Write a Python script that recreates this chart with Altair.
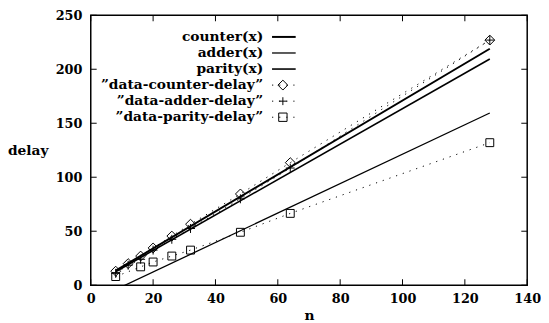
import altair as alt
import pandas as pd

# ---------------- data ----------------
n_counter = [8, 12, 16, 20, 26, 32, 48, 64, 128]
counter_delay = [13, 20, 27, 34.5, 45.5, 56.5, 84.5, 113.5, 227]

n_adder = [8, 12, 16, 20, 26, 32, 48, 64, 128]
adder_delay = [11, 18.5, 24, 32.5, 42.5, 52.5, 80, 108.5, 227]

n_parity = [8, 16, 20, 26, 32, 48, 64, 128]
parity_delay = [8, 17, 21.5, 27, 32.5, 49, 66.5, 132]

fit_names = ["counter(x)", "adder(x)", "parity(x)"]
fit_n = [8, 128]
counter_fit = [13.5, 219]
adder_fit = [12.5, 209.5]
parity_fit = [-4.1, 159.5]

data_names = ["\u201ddata-counter-delay\u201d", "\u201ddata-adder-delay\u201d", "\u201ddata-parity-delay\u201d"]

x_ticks = [0, 20, 40, 60, 80, 100, 120, 140]
y_ticks = [0, 50, 100, 150, 200, 250]

# ---------------- tables ----------------
fit_df = pd.DataFrame({
    "n": fit_n * 3,
    "delay": counter_fit + adder_fit + parity_fit,
    "series": [s for s in fit_names for _ in fit_n],
})

pts_df = pd.DataFrame({
    "n": n_counter + n_adder + n_parity,
    "delay": counter_delay + adder_delay + parity_delay,
    "series": [data_names[0]] * len(n_counter) + [data_names[1]] * len(n_adder) + [data_names[2]] * len(n_parity),
})

xt_df = pd.DataFrame({"n": x_ticks})
yt_df = pd.DataFrame({"delay": y_ticks})

FONT = "DejaVu Serif"
W, H = 443, 274
TICK = 6
PLUS = "M-1,0H1M0,-1V1"
shapes = ["diamond", PLUS, "square"]
sizes = [100, 64, 72]
fit_widths = [2.0, 1.3, 1.6]

xs = alt.Scale(domain=[0, 140], nice=False, zero=False)
ys = alt.Scale(domain=[0, 250], nice=False, zero=False)

lab = dict(labelFont=FONT, labelFontWeight="bold", labelFontSize=13, labelColor="black",
           labelFlush=False, labelOverlap=False, ticks=False, domain=False, grid=False)
ttl = dict(titleFont=FONT, titleFontWeight="bold", titleFontSize=14, titleColor="black")

fits = alt.Chart(fit_df).mark_line(color="black", clip=True).encode(
    x=alt.X("n:Q", scale=xs, axis=alt.Axis(
        values=x_ticks, orient="bottom", labelPadding=8,
        title="n", titleY=35, titleBaseline="alphabetic", **lab, **ttl)),
    y=alt.Y("delay:Q", scale=ys, axis=alt.Axis(
        values=y_ticks, orient="left", labelPadding=9,
        title="delay", titleAngle=0, titleAlign="center", titleBaseline="middle",
        titleX=-64, titleY=137, **lab, **ttl)),
    detail="series:N",
    strokeWidth=alt.StrokeWidth("series:N", scale=alt.Scale(domain=fit_names, range=fit_widths), legend=None),
)

dotted = alt.Chart(pts_df).mark_line(color="black", strokeWidth=1, strokeDash=[1.2, 6], clip=True).encode(
    x=alt.X("n:Q", scale=xs, axis=None),
    y=alt.Y("delay:Q", scale=ys, axis=None),
    detail="series:N",
)

points = alt.Chart(pts_df).mark_point(color="black", filled=False, strokeWidth=1, opacity=1).encode(
    x=alt.X("n:Q", scale=xs, axis=None),
    y=alt.Y("delay:Q", scale=ys, axis=None),
    shape=alt.Shape("series:N", scale=alt.Scale(domain=data_names, range=shapes), legend=None),
    size=alt.Size("series:N", scale=alt.Scale(domain=data_names, range=sizes), legend=None),
)

# inward tick marks on all four sides (gnuplot style)
tick_layers = []
for ypix in (H - TICK / 2, TICK / 2):
    tick_layers.append(
        alt.Chart(xt_df).mark_tick(orient="vertical", color="black", size=TICK, thickness=1, opacity=1).encode(
            x=alt.X("n:Q", scale=xs, axis=None), y=alt.value(ypix))
    )
for xpix in (TICK / 2, W - TICK / 2):
    tick_layers.append(
        alt.Chart(yt_df).mark_tick(orient="horizontal", color="black", size=TICK, thickness=1, opacity=1).encode(
            y=alt.Y("delay:Q", scale=ys, axis=None), x=alt.value(xpix))
    )

# ---------------- key (gnuplot style: text right, sample to the right) ----------------
key_layers = []
KEY_TEXT_X, KEY_LINE_X0, KEY_LINE_X1, KEY_SYM_X = 175, 184, 208, 195
KEY_Y0, KEY_DY = 22, 16.3
all_names = fit_names + data_names
for i, name in enumerate(all_names):
    yy = KEY_Y0 + i * KEY_DY
    row = pd.DataFrame({"label": [name]})
    key_layers.append(
        alt.Chart(row).mark_text(align="right", baseline="middle", font=FONT, fontWeight="bold",
                                 fontSize=14, color="black").encode(
            x=alt.value(KEY_TEXT_X), y=alt.value(yy), text="label:N")
    )
    if i < 3:
        key_layers.append(
            alt.Chart(row).mark_rule(color="black", strokeWidth=fit_widths[i]).encode(
                x=alt.value(KEY_LINE_X0), x2=alt.value(KEY_LINE_X1), y=alt.value(yy))
        )
    else:
        j = i - 3
        key_layers.append(
            alt.Chart(row).mark_rule(color="black", strokeWidth=1, strokeDash=[1.2, 6]).encode(
                x=alt.value(KEY_LINE_X0), x2=alt.value(KEY_LINE_X1), y=alt.value(yy))
        )
        key_layers.append(
            alt.Chart(row).mark_point(shape=shapes[j], size=sizes[j], filled=False, color="black",
                                      strokeWidth=1, opacity=1).encode(
                x=alt.value(KEY_SYM_X), y=alt.value(yy))
        )

chart = alt.layer(fits, dotted, points, *tick_layers, *key_layers).resolve_axis(
    x="independent", y="independent"
).properties(
    width=W, height=H,
    autosize=alt.AutoSizeParams(type="none"),
    padding={"left": 84, "top": 5, "right": 14, "bottom": 36},
    background="white",
).configure_view(stroke="black", strokeWidth=1.5)

chart.save("out.html", embed_options={"renderer": "svg", "actions": False})
